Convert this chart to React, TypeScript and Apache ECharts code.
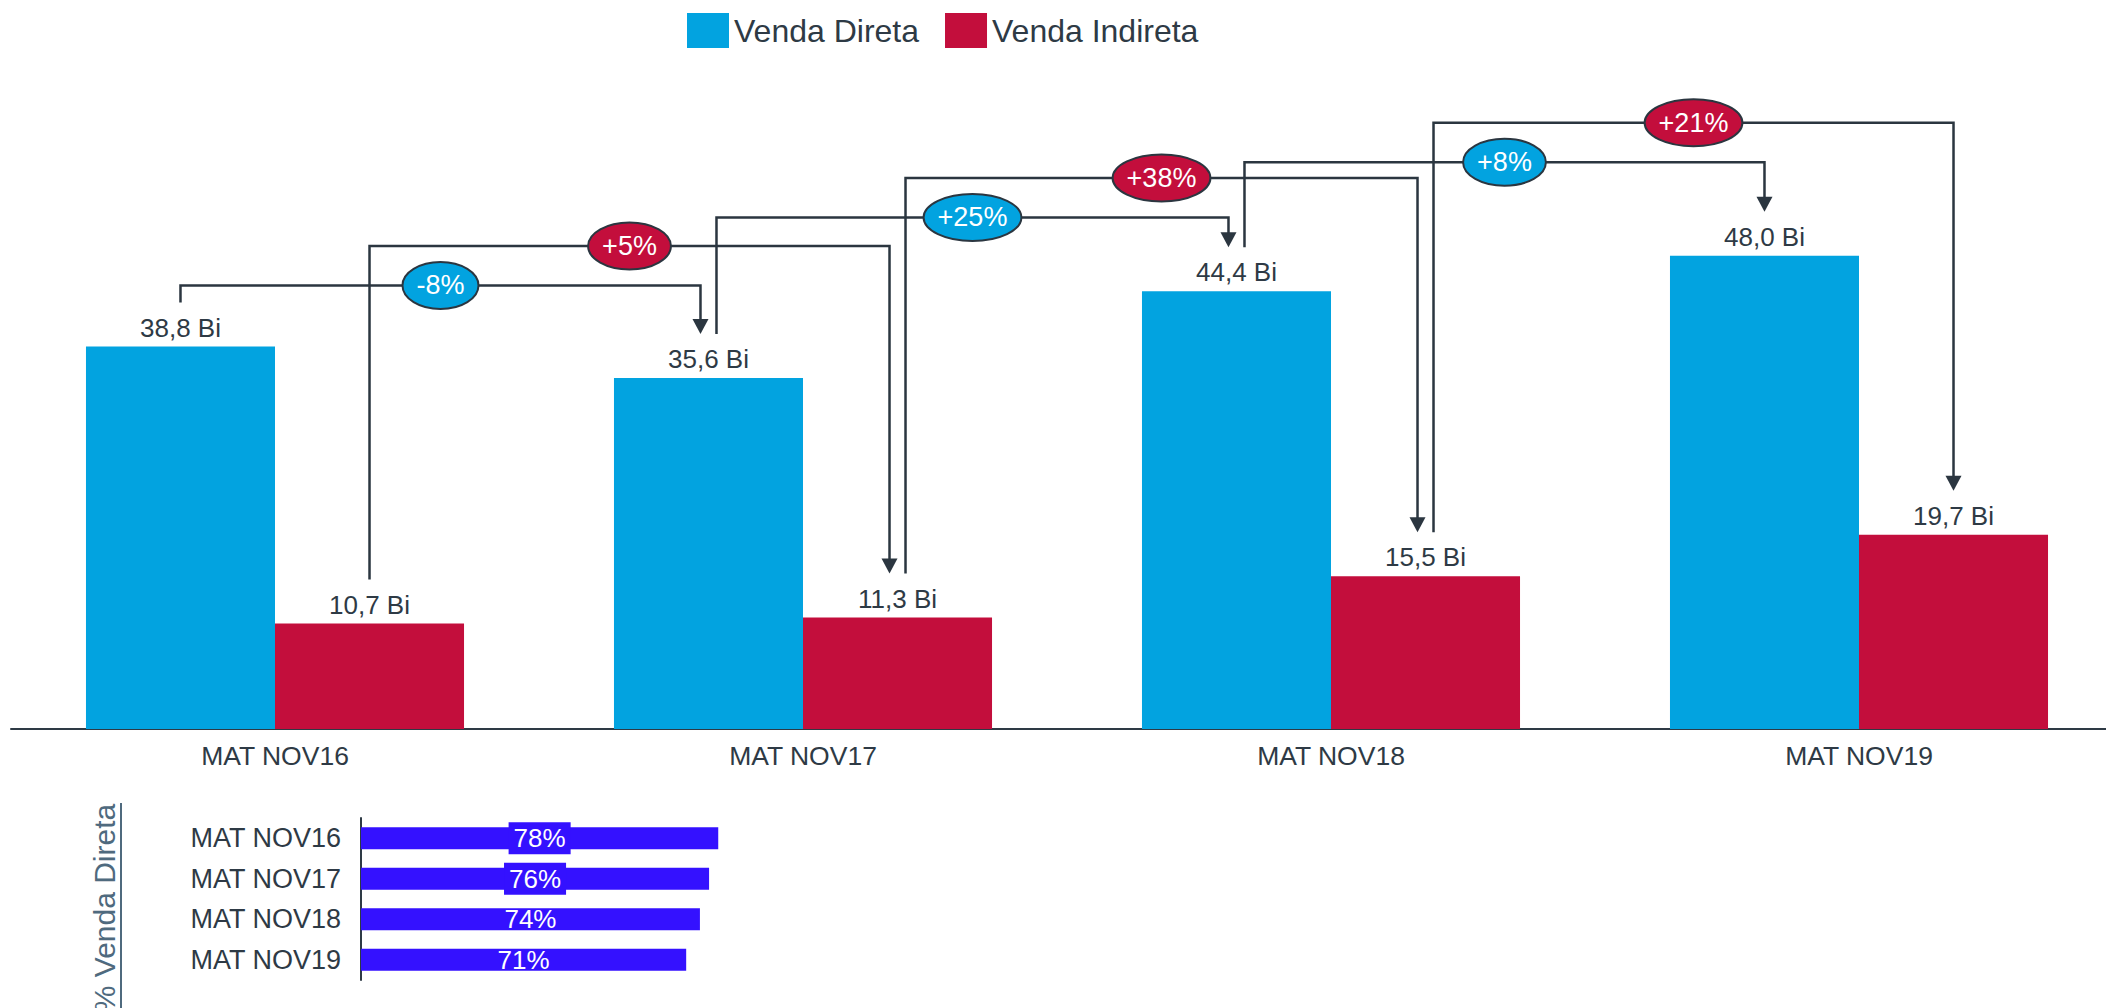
import React, { useEffect, useRef } from 'react';
import * as echarts from 'echarts';

const categories = ['MAT NOV16', 'MAT NOV17', 'MAT NOV18', 'MAT NOV19'];
const vendaDireta = [38.8, 35.6, 44.4, 48.0];
const vendaIndireta = [10.7, 11.3, 15.5, 19.7];
const pctDireta = [78, 76, 74, 71];
const pctBoxed = [true, true, false, false];

const changeLabels = ['-8%', '+5%', '+25%', '+38%', '+8%', '+21%'];
const changeFrom = [0, 0, 1, 1, 2, 2];
const changeTo = [1, 1, 2, 2, 3, 3];
const changeSeries = [0, 1, 0, 1, 0, 1];
// connector heights, in main value-axis units (layout)
const changeLevel = [45.0, 49.0, 51.9, 55.9, 57.5, 61.5];

const BLUE = '#02A3E0';
const RED = '#C30E3C';
const VIOLET = '#3411FF';
const DARK = '#2E3A45';
const LINE = '#2B3640';
const TITLE = '#4F6A7E';
const FONT = '"Liberation Sans", Arial, Helvetica, sans-serif';
const CAT_GAP = 0.284;
const BUBBLE_FONT = 27;

let measureCtx: CanvasRenderingContext2D | null = null;
function textWidth(s: string, size: number): number {
  if (!measureCtx) measureCtx = document.createElement('canvas').getContext('2d');
  if (!measureCtx) return s.length * size * 0.6;
  measureCtx.font = `${size}px "Liberation Sans", Arial, sans-serif`;
  return measureCtx.measureText(s).width;
}

export default function App() {
  const ref = useRef<HTMLDivElement>(null);

  useEffect(() => {
    if (!ref.current) return;
    const chart = echarts.init(ref.current, null, { renderer: 'svg' });

    const hasIn = (s: number, cat: number) =>
      changeTo.some((t, k) => t === cat && changeSeries[k] === s);
    const hasOut = (s: number, cat: number) =>
      changeFrom.some((f, k) => f === cat && changeSeries[k] === s);

    const renderItem = (params: any, api: any) => {
      const i = params.dataIndex;
      const s = changeSeries[i];
      const from = changeFrom[i];
      const to = changeTo[i];
      const vals = s === 0 ? vendaDireta : vendaIndireta;
      const band = api.size([1, 0])[0];
      const barW = (band * (1 - CAT_GAP)) / 2;
      const off = s === 0 ? -barW / 2 : barW / 2;
      const xs = api.coord([from, 0])[0] + off + (hasIn(s, from) ? 8 : 0);
      const xe = api.coord([to, 0])[0] + off - (hasOut(s, to) ? 8 : 0);
      const yL = api.coord([from, changeLevel[i]])[1];
      const yStart = api.coord([from, vals[from]])[1] - 44;
      const yTip = api.coord([to, vals[to]])[1] - 44;
      const mx = (xs + xe) / 2;
      const tw = textWidth(changeLabels[i], BUBBLE_FONT);
      const rx = (tw + 28) / 2;
      return {
        type: 'group',
        children: [
          {
            type: 'polyline',
            shape: { points: [[xs, yStart], [xs, yL], [xe, yL], [xe, yTip - 14]] },
            style: { stroke: LINE, lineWidth: 2.5, fill: 'none' },
          },
          {
            type: 'polygon',
            shape: { points: [[xe - 8, yTip - 15], [xe + 8, yTip - 15], [xe, yTip]] },
            style: { fill: LINE },
          },
          {
            type: 'ellipse',
            shape: { cx: mx, cy: yL, rx, ry: 23.5 },
            style: { fill: s === 0 ? BLUE : RED, stroke: LINE, lineWidth: 2 },
          },
          {
            type: 'text',
            x: mx,
            y: yL,
            style: {
              text: changeLabels[i],
              fill: '#fff',
              fontSize: BUBBLE_FONT,
              fontFamily: FONT,
              align: 'center',
              verticalAlign: 'middle',
            },
          },
        ],
      };
    };

    const biFmt = (p: any) => Number(p.value).toFixed(1).replace('.', ',') + ' Bi';

    const option: any = {
      animation: false,
      textStyle: { fontFamily: FONT },
      legend: {
        left: 682,
        top: 8,
        itemWidth: 42,
        itemHeight: 35,
        itemGap: 26,
        icon: 'rect',
        data: ['Venda Direta', 'Venda Indireta'],
        textStyle: { fontSize: 32, color: DARK },
      },
      grid: [
        { left: 11, width: 2112, top: 39, bottom: 279 },
        { left: 361, width: 458, top: 818, height: 162 },
      ],
      xAxis: [
        {
          type: 'category',
          gridIndex: 0,
          data: categories,
          axisLine: { lineStyle: { color: DARK, width: 2 } },
          axisTick: { show: false },
          axisLabel: { fontSize: 26.5, color: DARK, margin: 13 },
        },
        { type: 'value', gridIndex: 1, min: 0, max: 100, show: false },
      ],
      yAxis: [
        { type: 'value', gridIndex: 0, min: 0, max: 70, show: false },
        {
          type: 'category',
          gridIndex: 1,
          data: categories,
          inverse: true,
          axisLine: { lineStyle: { color: DARK, width: 2 } },
          axisTick: { show: false },
          axisLabel: { fontSize: 27, color: DARK, margin: 20 },
        },
      ],
      series: [
        {
          name: 'Venda Direta',
          type: 'bar',
          xAxisIndex: 0,
          yAxisIndex: 0,
          data: vendaDireta,
          itemStyle: { color: BLUE },
          barGap: '0%',
          barCategoryGap: CAT_GAP * 100 + '%',
          label: { show: true, position: 'top', distance: 6, fontSize: 26, color: DARK, formatter: biFmt },
        },
        {
          name: 'Venda Indireta',
          type: 'bar',
          xAxisIndex: 0,
          yAxisIndex: 0,
          data: vendaIndireta,
          itemStyle: { color: RED },
          barGap: '0%',
          barCategoryGap: CAT_GAP * 100 + '%',
          label: { show: true, position: 'top', distance: 6, fontSize: 26, color: DARK, formatter: biFmt },
        },
        {
          type: 'bar',
          xAxisIndex: 1,
          yAxisIndex: 1,
          barWidth: 22,
          data: pctDireta.map((v, i) => ({
            value: v,
            label: pctBoxed[i] ? { backgroundColor: VIOLET, padding: [3, 5] } : {},
          })),
          itemStyle: { color: VIOLET },
          label: { show: true, position: 'inside', color: '#fff', fontSize: 26, formatter: '{c}%' },
        },
        {
          type: 'custom',
          xAxisIndex: 0,
          yAxisIndex: 0,
          clip: false,
          z: 5,
          silent: true,
          data: changeLabels.map((_, i) => [changeFrom[i], changeLevel[i]]),
          renderItem,
        },
      ],
      graphic: [
        {
          type: 'text',
          x: 104,
          y: 908,
          rotation: Math.PI / 2,
          style: {
            text: '% Venda Direta',
            fontSize: 30,
            fontFamily: FONT,
            fill: TITLE,
            align: 'center',
            verticalAlign: 'middle',
          },
        },
        {
          type: 'line',
          shape: { x1: 121, y1: 803, x2: 121, y2: 1008 },
          style: { stroke: TITLE, lineWidth: 2 },
        },
      ],
    };

    chart.setOption(option);
    return () => chart.dispose();
  }, []);

  return (
    <div
      style={{
        position: 'absolute',
        left: 0,
        top: 0,
        width: 2106,
        height: 1008,
        overflow: 'hidden',
        background: '#fff',
      }}
    >
      <div ref={ref} style={{ position: 'absolute', left: 0, top: 0, width: 2130, height: 1008 }} />
    </div>
  );
}
